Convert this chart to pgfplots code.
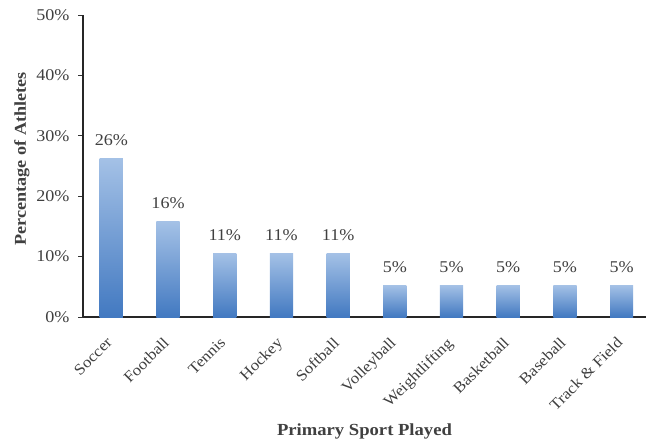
\documentclass[border=0pt]{standalone}
\usepackage{pgfplots}
\pgfplotsset{compat=1.18}
\usepackage{fontspec}
\setmainfont[FakeStretch=1.1]{Liberation Serif}
\definecolor{txt}{RGB}{64,64,64}
\definecolor{bartop}{RGB}{164,193,230}
\definecolor{barbot}{RGB}{66,121,193}
\pgfplotsset{gbar/.style={draw=none, top color=bartop, bottom color=barbot, bar shift=0pt}}
\begin{document}
\begin{tikzpicture}
\begin{axis}[
  name=ax,
  scale only axis,
  width=563bp, height=302bp,
  xmin=-0.5, xmax=9.43,
  ymin=0, ymax=50,
  axis x line*=bottom, axis y line*=left,
  axis line style={line width=1.3pt, color=black!85},
  ytick={0,10,20,30,40,50},
  yticklabel={\pgfmathprintnumber{\tick}\%},
  xtick={0,...,9},
  xticklabels={Soccer,Football,Tennis,Hockey,Softball,Volleyball,Weightlifting,Basketball,Baseball,Track \& Field},
  extra x ticks={-0.5,0.5,1.5,2.5,3.5,4.5,5.5,6.5,7.5,8.5},
  extra x tick labels={},
  extra x tick style={major tick length=5pt, tick style={color=black!80, line width=0.8pt}},
  x tick style={draw=none},
  y tick style={color=black!80, line width=0.8pt},
  major tick length=5pt,
  tick align=outside,
  xticklabel style={rotate=45, anchor=north east, font=\fontsize{15.5}{17}\selectfont, text=txt, yshift=-2.6bp, xshift=-10.7bp},
  yticklabel style={font=\fontsize{16.5}{18}\selectfont, text=txt, xshift=-5bp},
  /pgf/number format/assume math mode=true,
  xlabel={\textbf{Primary Sport Played}},
  ylabel={\textbf{Percentage of Athletes}},
  every axis x label/.style={at={([yshift=-114bp]axis description cs:0.5,0)}, anchor=center, font=\fontsize{17}{19}\selectfont},
  every axis y label/.style={at={([xshift=-61bp,yshift=7bp]axis description cs:0,0.5)}, anchor=center, rotate=90, font=\fontsize{16.6}{19}\selectfont},
  label style={text=txt},
  ybar, bar width=0.41,
  nodes near coords={\pgfmathprintnumber[fixed,precision=0]{\pgfplotspointmeta}\%},
  nodes near coords style={font=\fontsize{16.5}{18}\selectfont, text=txt, /pgf/number format/assume math mode=true, yshift=9bp},
  clip=false,
]
\addplot[gbar] coordinates {(0,26.32)};
\addplot[gbar] coordinates {(1,15.79)};
\addplot[gbar] coordinates {(2,10.53)};
\addplot[gbar] coordinates {(3,10.53)};
\addplot[gbar] coordinates {(4,10.53)};
\addplot[gbar] coordinates {(5,5.26)};
\addplot[gbar] coordinates {(6,5.26)};
\addplot[gbar] coordinates {(7,5.26)};
\addplot[gbar] coordinates {(8,5.26)};
\addplot[gbar] coordinates {(9,5.26)};
\end{axis}
\pgfresetboundingbox
\path (ax.south west) ++(-83bp,-125bp) rectangle ++(646bp,442bp);
\end{tikzpicture}
\end{document}
